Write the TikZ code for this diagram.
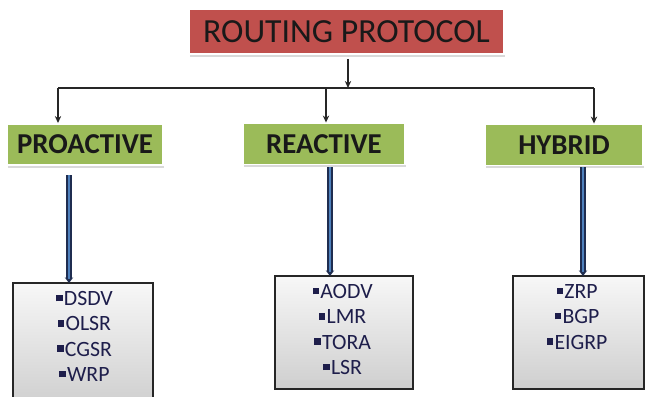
\documentclass[tikz,border=0pt]{standalone}
\usepackage{fontspec}
\setmainfont{Carlito}
\usetikzlibrary{arrows.meta,shadows}

\definecolor{rootred}{RGB}{192,80,77}
\definecolor{headgreen}{RGB}{155,187,89}
\definecolor{pipeblue}{RGB}{79,129,189}
\definecolor{pipedark}{RGB}{31,45,80}
\definecolor{listtext}{RGB}{30,30,75}

\newcommand{\sqitem}{\rule[0.2em]{0.3em}{0.3em}\hspace{0.06em}}

\tikzset{
    rootbox/.style={fill=rootred, draw=white, line width=1pt, minimum width=7.875cm, minimum height=1.125cm,
        font=\fontsize{24}{26}\selectfont, text=black!90,
        drop shadow={shadow xshift=0.6pt, shadow yshift=-2pt, opacity=0.3}},
    headbox/.style={fill=headgreen, draw=white, line width=1.2pt, minimum height=1.03cm,
        font=\fontsize{20.5}{22}\selectfont\bfseries, text=black!90,
        drop shadow={shadow xshift=0.6pt, shadow yshift=-2pt, opacity=0.3}},
    listbox/.style={draw=black!85, line width=0.9pt, top color=gray!6, bottom color=gray!38},
    listtxt/.style={anchor=north, inner sep=0pt, align=center, text=listtext,
        font=\fontsize{15.5}{18}\selectfont},
    feed/.style={-{Stealth[length=5pt,width=4.5pt]}, line width=0.8pt, black!85},
    pipe/.style={line width=1.2pt, draw=pipedark, double=pipeblue, double distance=1.6pt,
        -{Stealth[length=4pt,width=6pt]}}
}

\begin{document}
\begin{tikzpicture}[x=0.025cm, y=-0.025cm]
        \useasboundingbox (0,0) rectangle (646,396);

        \node[rootbox] at (346.5,31.5) (root) {ROUTING PROTOCOL};

        \node[headbox, minimum width=3.9cm] at (85,144.5) (pro) {PROACTIVE};
        \node[headbox, minimum width=4.05cm] at (324,144) (rea) {REACTIVE};
        \node[headbox, minimum width=3.95cm] at (564,145) (hyb) {HYBRID};

        \node[listbox, minimum width=3.5cm, minimum height=3.1cm] at (83,345) (prolist) {};
        \node[listbox, minimum width=3.45cm, minimum height=2.825cm] at (344,332.5) (realist) {};
        \node[listbox, minimum width=3.275cm, minimum height=2.825cm] at (578.5,332.5) (hyblist) {};

        \node[listtxt] at ([xshift=1pt, yshift=-6.3pt]prolist.north) (protxt) {\sqitem DSDV\\ \sqitem OLSR\\ \sqitem CGSR\\ \sqitem WRP};
        \node[listtxt] at ([xshift=-1pt, yshift=-6.3pt]realist.north) (reatxt) {\sqitem AODV\\ \sqitem LMR\\ \sqitem TORA\\ \sqitem LSR};
        \node[listtxt] at ([xshift=-1pt, yshift=-6.3pt]hyblist.north) (hybtxt) {\sqitem ZRP\\ \sqitem BGP\\ \sqitem EIGRP};

        \coordinate (busl) at (58,88);
        \coordinate (busr) at (594,88);
        \coordinate (busm) at (326,88);

        \draw[feed] ([yshift=-3pt]root.south -| 348,0) -- (348,88);
        \draw[line width=0.8pt, black!85] (busl) -- (busr);
        \draw[feed] (busl) -- (busl |- pro.north);
        \draw[feed] (busm) -- (busm |- rea.north);
        \draw[feed] (busr) -- (busr |- hyb.north);

        \draw[pipe] (69,175) -- (69,283);
        \draw[pipe] (330,167) -- (330,276);
        \draw[pipe] (583,167) -- (583,276);
\end{tikzpicture}
\end{document}
